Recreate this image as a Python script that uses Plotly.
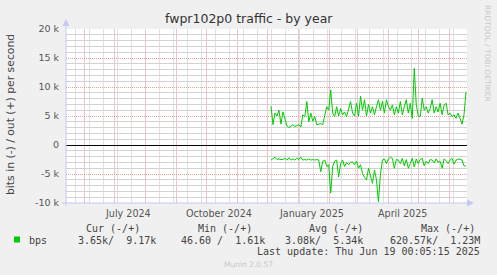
import plotly.graph_objects as go
import pandas as pd

# ---------------- data ----------------
x_start = "2024-05-14"
x_end = "2025-06-19"
sample_dates = pd.date_range("2024-12-05", "2025-06-18", periods=99)

# bits out (+) per second, in k
bps_out_k = [6.7, 3.5, 5.5, 5.0, 6.0, 3.6, 5.7, 4.5, 3.3, 3.0,
             3.2, 3.5, 3.2, 3.3, 3.5, 3.1, 5.2, 4.9, 7.5, 4.0,
             5.5, 4.1, 4.9, 3.5, 3.6, 3.7, 3.5, 5.0, 6.6, 6.0,
             9.5, 5.5, 4.9, 6.6, 5.0, 6.3, 5.2, 5.7, 4.9, 6.2,
             7.5, 5.5, 5.0, 7.2, 5.0, 8.4, 6.0, 7.8, 5.0, 7.0,
             5.5, 6.6, 5.2, 6.6, 7.8, 6.0, 7.5, 5.5, 7.8, 6.6,
             6.0, 6.9, 5.2, 6.6, 5.5, 7.5, 5.2, 6.6, 7.8, 5.5,
             7.2, 4.6, 13.2, 7.0, 5.0, 4.9, 8.1, 6.0, 6.6, 5.5,
             6.3, 7.8, 5.5, 6.6, 5.7, 7.2, 5.2, 6.9, 7.2, 5.2,
             5.5, 4.9, 5.2, 4.6, 5.5, 4.6, 3.6, 5.2, 9.17]

# bits in (-) per second, in k (plotted negative)
bps_in_k = [2.6, 2.4, 2.1, 2.5, 2.4, 2.5, 2.5, 2.3, 2.6, 2.2,
            2.6, 2.4, 2.6, 2.3, 2.5, 2.1, 2.6, 2.5, 2.6, 2.4,
            2.6, 2.5, 2.6, 2.5, 2.6, 4.6, 2.8, 2.6, 3.7, 3.4,
            8.3, 3.7, 2.8, 2.6, 5.5, 3.2, 2.6, 3.7, 3.0, 3.4,
            3.0, 2.9, 3.4, 2.8, 4.0, 3.4, 4.9, 5.6, 6.0, 4.0,
            5.2, 6.6, 4.3, 6.0, 9.8, 5.0, 2.6, 2.4, 3.2, 2.4,
            2.1, 2.3, 4.0, 2.5, 2.6, 3.2, 2.3, 3.6, 2.5, 4.0,
            3.2, 2.3, 3.8, 2.4, 3.2, 2.5, 2.3, 3.6, 2.8, 3.2,
            2.5, 2.6, 3.1, 2.4, 3.0, 2.8, 4.0, 2.4, 2.7, 3.2,
            2.6, 2.3, 3.3, 2.6, 2.4, 2.5, 2.6, 3.6, 3.65]

y_tick_vals = [-10000, -5000, 0, 5000, 10000, 15000, 20000]
y_tick_text = ["-10 k", "-5 k", "0", "5 k", "10 k", "15 k", "20 k"]
y_minor_vals = [v for v in range(-10000, 20001, 1000) if v % 5000 != 0]

x_label_dates = ["2024-07-15", "2024-10-14", "2025-01-14", "2025-04-15"]
x_label_text = ["July 2024", "October 2024", "January 2025", "April 2025"]

legend_headers = ["Cur (-/+)", "Min (-/+)", "Avg (-/+)", "Max (-/+)"]
legend_values = ["3.65k/  9.17k", "46.60 /  1.61k", "3.08k/  5.34k", "620.57k/  1.23M"]

# ---------------- geometry helpers ----------------
W, H = 497, 275
L, R, T, B = 66, 467, 29, 203


def px(x):
    return (x - L) / (R - L)


def py(y):
    return (B - y) / (B - T)


GREEN = "#00cc00"
MONO = "DejaVu Sans Mono"
SANS = "DejaVu Sans"
TXT = "#444444"
AXIS = "#c4c8f4"
MAJ = "#e8a0a0"
MAJ_V = "#f0c4c4"
MIN_V = "#e0e0e0"
MIN_H = "#d2d2d2"
CLEAR = "rgba(0,0,0,0)"

fig = go.Figure()
# carrier for the minor horizontal grid axis (invisible)
fig.add_trace(go.Scatter(x=[x_start, x_end], y=[0, 0], xaxis="x", yaxis="y2",
                         mode="lines", line=dict(color=CLEAR, width=0), hoverinfo="skip"))
fig.add_trace(go.Scatter(x=sample_dates, y=[-v * 1000 for v in bps_in_k], mode="lines",
                         line=dict(color=GREEN, width=1), hoverinfo="skip"))
fig.add_trace(go.Scatter(x=sample_dates, y=[v * 1000 for v in bps_out_k], mode="lines",
                         line=dict(color=GREEN, width=1), hoverinfo="skip"))

fig.update_layout(
    template="none",
    width=W, height=H,
    margin=dict(l=L, r=W - R, t=T, b=H - B, pad=0),
    paper_bgcolor="#f0f0f0", plot_bgcolor="white",
    showlegend=False,
    font=dict(family=SANS, color=TXT),
    xaxis=dict(type="date", range=[x_start, x_end], showticklabels=False, ticks="",
               showgrid=True, gridcolor=MAJ_V, gridwidth=1,
               dtick="M1", tick0="2024-06-01",
               minor=dict(showgrid=True, dtick=14 * 86400000, tick0="2024-06-06",
                          gridcolor=MIN_V, gridwidth=1),
               zeroline=False, showline=False, automargin=False),
    yaxis=dict(range=[-10000, 20000], tickmode="array", tickvals=y_tick_vals, ticktext=y_tick_text,
               tickfont=dict(size=9.5, color="#555555", family=SANS),
               ticks="outside", ticklen=4, tickcolor=CLEAR,
               showgrid=True, gridcolor=MAJ, griddash="1px,1px", gridwidth=1,
               zeroline=True, zerolinecolor="black", zerolinewidth=1,
               showline=False, automargin=False),
    yaxis2=dict(range=[-10000, 20000], overlaying="y", tickmode="array", tickvals=y_minor_vals,
                showticklabels=False, ticks="",
                showgrid=True, gridcolor=MIN_H, gridwidth=1,
                zeroline=False, showline=False, automargin=False),
)

shapes = []
shapes.append(dict(type="line", xref="paper", yref="paper", x0=px(66), x1=px(66), y0=py(206), y1=py(24),
                   line=dict(color=AXIS, width=1)))
shapes.append(dict(type="path", xref="paper", yref="paper",
                   path=f"M {px(66)} {py(19)} L {px(62.5)} {py(26)} L {px(69.5)} {py(26)} Z",
                   fillcolor=AXIS, line=dict(width=0)))
shapes.append(dict(type="line", xref="paper", yref="paper", x0=px(62), x1=px(469), y0=py(203), y1=py(203),
                   line=dict(color=AXIS, width=1)))
shapes.append(dict(type="path", xref="paper", yref="paper",
                   path=f"M {px(474)} {py(203)} L {px(467)} {py(199.5)} L {px(467)} {py(206.5)} Z",
                   fillcolor=AXIS, line=dict(width=0)))
shapes.append(dict(type="rect", xref="paper", yref="paper", x0=px(14), x1=px(20), y0=py(242.5), y1=py(236.5),
                   fillcolor=GREEN, line=dict(width=0)))
fig.update_layout(shapes=shapes)

ann = []
ann.append(dict(text="fwpr102p0 traffic - by year", xref="paper", yref="paper", x=px(249), y=py(19),
                xanchor="center", yanchor="middle", showarrow=False,
                font=dict(size=12.5, color="#333333", family=SANS)))
ann.append(dict(text="bits in (-) / out (+) per second", xref="paper", yref="paper", x=px(10.5), y=py(114.5),
                xanchor="center", yanchor="middle", textangle=-90, showarrow=False,
                font=dict(size=10.8, color=TXT, family=SANS)))
for d, t in zip(x_label_dates, x_label_text):
    ann.append(dict(text=t, xref="x", yref="paper", x=d, y=py(213), xanchor="center", yanchor="middle",
                    showarrow=False, font=dict(size=9.6, color="#555555", family=SANS)))
ann.append(dict(text="RRDTOOL / TOBI OETIKER", xref="paper", yref="paper", x=px(487.5), y=py(53.5),
                xanchor="center", yanchor="middle", textangle=90, showarrow=False,
                font=dict(size=7.5, color="#c8c8c8", family=SANS)))
nb = "\u00a0"
header_right = [142, 254, 365, 477]
value_right = [158, 267, 365, 482]
for h, xr in zip(legend_headers, header_right):
    ann.append(dict(text=h.replace(" ", nb), xref="paper", yref="paper", x=px(xr), y=py(228),
                    xanchor="right", yanchor="middle", showarrow=False,
                    font=dict(size=10, color=TXT, family=MONO)))
ann.append(dict(text="bps", xref="paper", yref="paper", x=px(26.5), y=py(240),
                xanchor="left", yanchor="middle", showarrow=False,
                font=dict(size=10, color=TXT, family=MONO)))
for v, xr in zip(legend_values, value_right):
    ann.append(dict(text=v.replace(" ", nb), xref="paper", yref="paper", x=px(xr), y=py(240),
                    xanchor="right", yanchor="middle", showarrow=False,
                    font=dict(size=10, color=TXT, family=MONO)))
ann.append(dict(text="Last update: Thu Jun 19 00:05:15 2025".replace(" ", nb), xref="paper", yref="paper",
                x=px(482), y=py(251.5), xanchor="right", yanchor="middle", showarrow=False,
                font=dict(size=10, color=TXT, family=MONO)))
ann.append(dict(text="Munin 2.0.57", xref="paper", yref="paper", x=px(248), y=py(264.5),
                xanchor="center", yanchor="middle", showarrow=False,
                font=dict(size=7.5, color="#c8c8c8", family=SANS)))
fig.update_layout(annotations=ann)

fig.write_html("out.html")
